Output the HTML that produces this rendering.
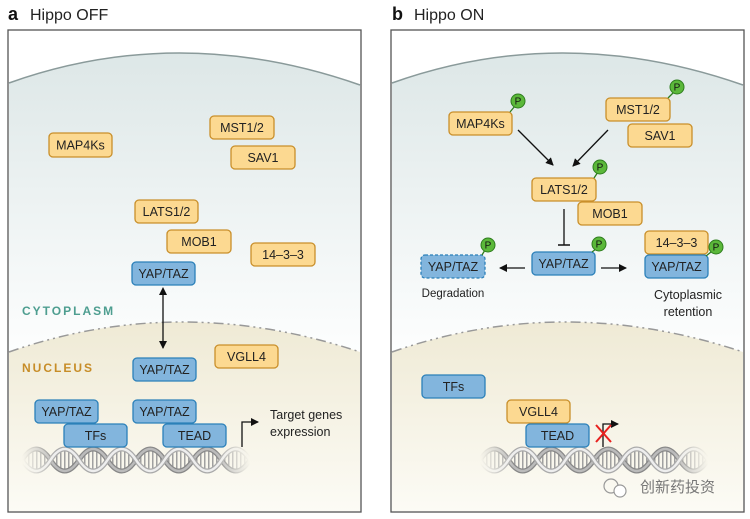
<!DOCTYPE html>
<html><head><meta charset="utf-8"><style>
body{margin:0;background:#fff;}
svg{display:block;font-family:"Liberation Sans","Noto Sans CJK SC",sans-serif;}
.o{fill:#fcd991;stroke:#c98f2a;stroke-width:1.3;}
.b{fill:#82b5dd;stroke:#2b80b9;stroke-width:1.3;}
.t{font-size:12.5px;fill:#222;text-anchor:middle;}
.p{fill:#5bb83a;stroke:#2e7d1e;stroke-width:1;}
.pt{font-size:10px;fill:#111;text-anchor:middle;}
</style></head><body>
<svg width="750" height="519" viewBox="0 0 750 519">
<defs>
<linearGradient id="cy" x1="0" y1="0" x2="0" y2="1"><stop offset="0" stop-color="#dde7e7"/><stop offset="1" stop-color="#fdfefe"/></linearGradient>
<linearGradient id="nu" x1="0" y1="0" x2="0" y2="1"><stop offset="0" stop-color="#efead5"/><stop offset="1" stop-color="#fcfbf5"/></linearGradient>
<linearGradient id="fd" x1="0" y1="0" x2="1" y2="0"><stop offset="0" stop-color="#fff" stop-opacity="0"/><stop offset="0.15" stop-color="#fff" stop-opacity="1"/><stop offset="0.85" stop-color="#fff" stop-opacity="1"/><stop offset="1" stop-color="#fff" stop-opacity="0"/></linearGradient>
<mask id="dm" maskUnits="userSpaceOnUse" x="0" y="440" width="260" height="40"><rect x="22" y="440" width="228" height="40" fill="url(#fd)"/></mask>
<clipPath id="lens"><path d="M22,460 Q36.25,438 50.5,460 Q64.75,482 79,460 Q93.25,438 107.5,460 Q121.75,482 136,460 Q150.25,438 164.5,460 Q178.75,482 193,460 Q207.25,438 221.5,460 Q235.75,482 250,460 Q235.75,438 221.5,460 Q207.25,482 193,460 Q178.75,438 164.5,460 Q150.25,482 136,460 Q121.75,438 107.5,460 Q93.25,482 79,460 Q64.75,438 50.5,460 Q36.25,482 22,460Z"/></clipPath>
<pattern id="rung" width="4" height="40" patternUnits="userSpaceOnUse"><rect width="1.5" height="40" fill="#a0a0a0"/></pattern>
<g id="dna">
 <g mask="url(#dm)">
  <rect x="22" y="440" width="228" height="40" fill="url(#rung)" clip-path="url(#lens)"/>
  <path d="M22,460 Q36.25,438 50.5,460 Q64.75,482 79,460 Q93.25,438 107.5,460 Q121.75,482 136,460 Q150.25,438 164.5,460 Q178.75,482 193,460 Q207.25,438 221.5,460 Q235.75,482 250,460" fill="none" stroke="#888" stroke-width="5"/>
  <path d="M22,460 Q36.25,438 50.5,460 Q64.75,482 79,460 Q93.25,438 107.5,460 Q121.75,482 136,460 Q150.25,438 164.5,460 Q178.75,482 193,460 Q207.25,438 221.5,460 Q235.75,482 250,460" fill="none" stroke="#bbb" stroke-width="2.5"/>
  <path d="M22,460 Q36.25,482 50.5,460 Q64.75,438 79,460 Q93.25,482 107.5,460 Q121.75,438 136,460 Q150.25,482 164.5,460 Q178.75,438 193,460 Q207.25,482 221.5,460 Q235.75,438 250,460" fill="none" stroke="#aaa" stroke-width="5"/>
  <path d="M22,460 Q36.25,482 50.5,460 Q64.75,438 79,460 Q93.25,482 107.5,460 Q121.75,438 136,460 Q150.25,482 164.5,460 Q178.75,438 193,460 Q207.25,482 221.5,460 Q235.75,438 250,460" fill="none" stroke="#eee" stroke-width="2.5"/>
 </g>
</g>
<g id="bg">
 <rect x="8" y="30" width="353" height="482" fill="#fff"/>
 <path d="M9,83 Q180,22 360,85 L360,352 Q180,292 9,352Z" fill="url(#cy)"/>
 <path d="M9,352 Q180,292 360,352 L360,511 L9,511Z" fill="url(#nu)"/>
 <path d="M9,83 Q180,22 360,85" fill="none" stroke="#8a9a9a" stroke-width="1.5"/>
 <path d="M9,352 Q180,292 360,352" fill="none" stroke="#999" stroke-width="1.5" stroke-dasharray="10,4,2,4,2,4"/>
 <rect x="8" y="30" width="353" height="482" fill="none" stroke="#555" stroke-width="1.3"/>
</g>
<marker id="ah" markerWidth="8" markerHeight="8" refX="7" refY="4" orient="auto" markerUnits="userSpaceOnUse"><path d="M0,0 L8,4 L0,8Z" fill="#111"/></marker>
<marker id="ahs" markerWidth="8" markerHeight="8" refX="1" refY="4" orient="auto-start-reverse" markerUnits="userSpaceOnUse"><path d="M0,0 L8,4 L0,8Z" fill="#111"/></marker>
</defs>

<!-- Panel a -->
<text x="8" y="20" font-size="18" font-weight="bold" fill="#111">a</text>
<text x="30" y="20" font-size="16" fill="#222">Hippo OFF</text>
<use href="#bg"/>
<use href="#dna"/>
<rect class="o" x="49" y="133" width="63" height="24" rx="4"/><text class="t" x="80.5" y="149.5">MAP4Ks</text>
<rect class="o" x="210" y="116" width="64" height="23" rx="4"/><text class="t" x="242" y="132">MST1/2</text>
<rect class="o" x="231" y="146" width="64" height="23" rx="4"/><text class="t" x="263" y="162">SAV1</text>
<rect class="o" x="135" y="200" width="63" height="23" rx="4"/><text class="t" x="166.5" y="216">LATS1/2</text>
<rect class="o" x="167" y="230" width="64" height="23" rx="4"/><text class="t" x="199" y="246">MOB1</text>
<rect class="o" x="251" y="243" width="64" height="23" rx="4"/><text class="t" x="283" y="259">14–3–3</text>
<rect class="b" x="132" y="262" width="63" height="23" rx="4"/><text class="t" x="163.5" y="278">YAP/TAZ</text>
<text x="22" y="315" font-size="12" font-weight="bold" letter-spacing="2" fill="#4e9e90">CYTOPLASM</text>
<line x1="163" y1="294" x2="163" y2="348" stroke="#111" stroke-width="1.3" marker-end="url(#ah)" marker-start="url(#ahs)"/>
<text x="22" y="372" font-size="12" font-weight="bold" letter-spacing="2" fill="#c78d28">NUCLEUS</text>
<rect class="b" x="133" y="358" width="63" height="23" rx="4"/><text class="t" x="164.5" y="374">YAP/TAZ</text>
<rect class="o" x="215" y="345" width="63" height="23" rx="4"/><text class="t" x="246.5" y="361">VGLL4</text>
<rect class="b" x="35" y="400" width="63" height="23" rx="4"/><text class="t" x="66.5" y="416">YAP/TAZ</text>
<rect class="b" x="64" y="424" width="63" height="23" rx="4"/><text class="t" x="95.5" y="440">TFs</text>
<rect class="b" x="133" y="400" width="63" height="23" rx="4"/><text class="t" x="164.5" y="416">YAP/TAZ</text>
<rect class="b" x="163" y="424" width="63" height="23" rx="4"/><text class="t" x="194.5" y="440">TEAD</text>
<path d="M242,447 L242,422 L258,422" fill="none" stroke="#111" stroke-width="1.3" marker-end="url(#ah)"/>
<text x="270" y="419" font-size="12.5" fill="#222">Target genes</text>
<text x="270" y="436" font-size="12.5" fill="#222">expression</text>

<!-- Panel b -->
<text x="392" y="20" font-size="18" font-weight="bold" fill="#111">b</text>
<text x="414" y="20" font-size="16" fill="#222">Hippo ON</text>
<g transform="translate(383,0)"><use href="#bg"/></g>
<g transform="translate(458,0)"><use href="#dna"/></g>
<rect class="o" x="449" y="112" width="63" height="23" rx="4"/><text class="t" x="480.5" y="128">MAP4Ks</text>
<line x1="510" y1="112" x2="515" y2="106" stroke="#2e7d1e" stroke-width="1.3"/><circle class="p" cx="518" cy="101" r="7"/><text class="pt" x="518" y="104.5">P</text>
<rect class="o" x="606" y="98" width="64" height="23" rx="4"/><text class="t" x="638" y="114">MST1/2</text>
<line x1="668" y1="98" x2="674" y2="92" stroke="#2e7d1e" stroke-width="1.3"/><circle class="p" cx="677" cy="87" r="7"/><text class="pt" x="677" y="90.5">P</text>
<rect class="o" x="628" y="124" width="64" height="23" rx="4"/><text class="t" x="660" y="140">SAV1</text>
<line x1="518" y1="130" x2="553" y2="165" stroke="#111" stroke-width="1.3" marker-end="url(#ah)"/>
<line x1="608" y1="130" x2="573" y2="166" stroke="#111" stroke-width="1.3" marker-end="url(#ah)"/>
<rect class="o" x="532" y="178" width="64" height="23" rx="4"/><text class="t" x="564" y="194">LATS1/2</text>
<line x1="594" y1="178" x2="598" y2="172" stroke="#2e7d1e" stroke-width="1.3"/><circle class="p" cx="600" cy="167" r="7"/><text class="pt" x="600" y="170.5">P</text>
<rect class="o" x="578" y="202" width="64" height="23" rx="4"/><text class="t" x="610" y="218">MOB1</text>
<line x1="564" y1="209" x2="564" y2="245" stroke="#111" stroke-width="1.3"/><line x1="558" y1="245" x2="570" y2="245" stroke="#111" stroke-width="1.5"/>
<rect class="b" x="532" y="252" width="63" height="23" rx="4"/><text class="t" x="563.5" y="268">YAP/TAZ</text>
<line x1="592" y1="252" x2="596" y2="249" stroke="#2e7d1e" stroke-width="1.3"/><circle class="p" cx="599" cy="244" r="7"/><text class="pt" x="599" y="247.5">P</text>
<rect class="b" x="421" y="255" width="64" height="23" rx="4" stroke-dasharray="3,2"/><text class="t" x="453" y="271">YAP/TAZ</text>
<line x1="482" y1="255" x2="485" y2="250" stroke="#2e7d1e" stroke-width="1.3"/><circle class="p" cx="488" cy="245" r="7"/><text class="pt" x="488" y="248.5">P</text>
<line x1="525" y1="268" x2="500" y2="268" stroke="#111" stroke-width="1.3" marker-end="url(#ah)"/>
<line x1="601" y1="268" x2="626" y2="268" stroke="#111" stroke-width="1.3" marker-end="url(#ah)"/>
<rect class="o" x="645" y="231" width="63" height="23" rx="4"/><text class="t" x="676.5" y="247">14–3–3</text>
<rect class="b" x="645" y="255" width="63" height="23" rx="4"/><text class="t" x="676.5" y="271">YAP/TAZ</text>
<line x1="706" y1="256" x2="711" y2="252" stroke="#2e7d1e" stroke-width="1.3"/><circle class="p" cx="716" cy="247" r="7"/><text class="pt" x="716" y="250.5">P</text>
<text x="453" y="297" font-size="11.5" fill="#222" text-anchor="middle">Degradation</text>
<text x="688" y="299" font-size="12.5" fill="#222" text-anchor="middle">Cytoplasmic</text>
<text x="688" y="316" font-size="12.5" fill="#222" text-anchor="middle">retention</text>
<rect class="b" x="422" y="375" width="63" height="23" rx="4"/><text class="t" x="453.5" y="391">TFs</text>
<rect class="o" x="507" y="400" width="63" height="23" rx="4"/><text class="t" x="538.5" y="416">VGLL4</text>
<rect class="b" x="526" y="424" width="63" height="23" rx="4"/><text class="t" x="557.5" y="440">TEAD</text>
<path d="M603,447 L603,424 L618,424" fill="none" stroke="#111" stroke-width="1.3" marker-end="url(#ah)"/>
<line x1="596" y1="425" x2="611" y2="442" stroke="#e8201e" stroke-width="2"/><line x1="611" y1="425" x2="596" y2="442" stroke="#e8201e" stroke-width="2"/>
<text x="640" y="492" font-size="15" fill="#777">创新药投资</text>
<circle cx="611" cy="486" r="7" fill="none" stroke="#999" stroke-width="1.2"/><circle cx="620" cy="491" r="6" fill="#fff" stroke="#999" stroke-width="1.2"/>
</svg>
</body></html>
